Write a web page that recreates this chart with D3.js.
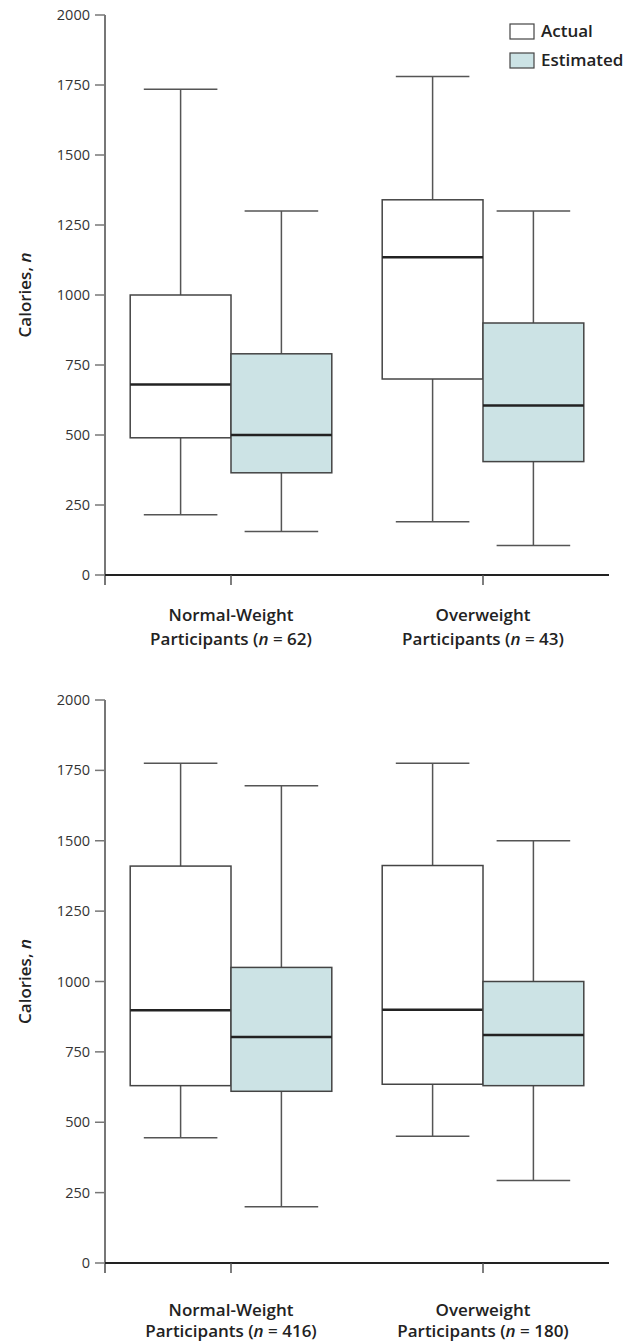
<!DOCTYPE html>
<html>
<head>
<meta charset="utf-8">
<script src="https://cdn.jsdelivr.net/npm/d3@7"></script>
<style>
  body { margin: 0; background: #fff; }
  text { font-family: "Open Sans", "Noto Sans", sans-serif; }
</style>
</head>
<body>
<script>
/*
    DATA
    each box is [lower whisker, Q1, median, Q3, upper whisker]
*/
var seriesNames = ["Actual", "Estimated"];
var groupNames = ["Normal-Weight", "Overweight"];
var topCounts = [62, 43];
var bottomCounts = [416, 180];
var yTicks = [0, 250, 500, 750, 1000, 1250, 1500, 1750, 2000];

var topActual = [[215, 490, 680, 1000, 1735], [190, 700, 1135, 1340, 1780]];
var topEstimated = [[155, 365, 500, 790, 1300], [105, 405, 605, 900, 1300]];
var bottomActual = [[445, 630, 898, 1410, 1775], [450, 635, 900, 1412, 1775]];
var bottomEstimated = [[200, 610, 803, 1050, 1695], [293, 630, 810, 1000, 1500]];

var fills = {"Actual": "#ffffff", "Estimated": "#cce3e5"};

/*
    LAYOUT
*/
var width = 631, height = 1343;
var axisLeft = 105, axisRight = 609;

var svg = d3.select("body").append("svg")
    .attr("width", width)
    .attr("height", height);

var x = d3.scaleBand()
    .domain(groupNames)
    .range([axisLeft, axisRight])
    .padding(0);

var xSub = d3.scaleBand()
    .domain(seriesNames)
    .range([0, x.bandwidth()])
    .paddingInner(0)
    .paddingOuter(0.25);

function drawPanel(top, bottom, actual, estimated, counts, labelY, lineGap) {
  var y = d3.scaleLinear().domain([0, 2000]).range([bottom, top]);
  var g = svg.append("g");

  // y axis
  g.append("line")
      .attr("x1", axisLeft).attr("x2", axisLeft)
      .attr("y1", y(2000)).attr("y2", y(0) + 10)
      .style("stroke", "#777").style("stroke-width", 2);

  var ticks = g.selectAll(".ytick").data(yTicks).enter().append("g")
      .attr("transform", function(d) { return "translate(0," + y(d) + ")"; });
  ticks.append("line")
      .attr("x1", axisLeft - 10).attr("x2", axisLeft)
      .style("stroke", "#777").style("stroke-width", 1.5);
  ticks.append("text")
      .attr("x", axisLeft - 15)
      .attr("dy", "0.35em")
      .style("text-anchor", "end")
      .style("font-size", "14.5px")
      .style("fill", "#333")
      .text(function(d) { return d; });

  // y label
  var yl = g.append("text")
      .attr("transform", "translate(31," + ((top + bottom) / 2) + ") rotate(-90)")
      .style("text-anchor", "middle")
      .style("font-size", "17px")
      .style("font-weight", 600)
      .style("fill", "#222");
  yl.append("tspan").text("Calories, ");
  yl.append("tspan").style("font-style", "italic").text("n");

  // boxes
  var boxData = [];
  groupNames.forEach(function(grp, i) {
    boxData.push({group: grp, series: "Actual", v: actual[i]});
    boxData.push({group: grp, series: "Estimated", v: estimated[i]});
  });

  var bw = xSub.bandwidth();
  var capW = bw * 0.73;

  var box = g.selectAll(".box").data(boxData).enter().append("g")
      .attr("transform", function(d) { return "translate(" + (x(d.group) + xSub(d.series)) + ",0)"; });

  // whiskers
  box.append("line")
      .attr("x1", bw / 2).attr("x2", bw / 2)
      .attr("y1", function(d) { return y(d.v[4]); })
      .attr("y2", function(d) { return y(d.v[3]); })
      .style("stroke", "#555").style("stroke-width", 1.5);
  box.append("line")
      .attr("x1", bw / 2).attr("x2", bw / 2)
      .attr("y1", function(d) { return y(d.v[1]); })
      .attr("y2", function(d) { return y(d.v[0]); })
      .style("stroke", "#555").style("stroke-width", 1.5);
  [0, 4].forEach(function(k) {
    box.append("line")
        .attr("x1", (bw - capW) / 2).attr("x2", (bw + capW) / 2)
        .attr("y1", function(d) { return y(d.v[k]); })
        .attr("y2", function(d) { return y(d.v[k]); })
        .style("stroke", "#555").style("stroke-width", 1.5);
  });

  box.append("rect")
      .attr("x", 0).attr("width", bw)
      .attr("y", function(d) { return y(d.v[3]); })
      .attr("height", function(d) { return y(d.v[1]) - y(d.v[3]); })
      .style("fill", function(d) { return fills[d.series]; })
      .style("stroke", "#444").style("stroke-width", 1.5);

  box.append("line")
      .attr("x1", 0).attr("x2", bw)
      .attr("y1", function(d) { return y(d.v[2]); })
      .attr("y2", function(d) { return y(d.v[2]); })
      .style("stroke", "#222").style("stroke-width", 2.5);

  // x axis
  g.append("line")
      .attr("x1", axisLeft).attr("x2", axisRight)
      .attr("y1", y(0)).attr("y2", y(0))
      .style("stroke", "#222").style("stroke-width", 2);
  g.selectAll(".xtick").data(groupNames).enter().append("line")
      .attr("x1", function(d) { return x(d) + x.bandwidth() / 2; })
      .attr("x2", function(d) { return x(d) + x.bandwidth() / 2; })
      .attr("y1", y(0)).attr("y2", y(0) + 10)
      .style("stroke", "#555").style("stroke-width", 1.5);

  // category labels
  groupNames.forEach(function(grp, i) {
    var cx = x(grp) + x.bandwidth() / 2;
    g.append("text")
        .attr("x", cx).attr("y", labelY)
        .style("text-anchor", "middle")
        .style("font-size", "17px").style("font-weight", 600).style("fill", "#222")
        .text(grp);
    var t = g.append("text")
        .attr("x", cx).attr("y", labelY + lineGap)
        .style("text-anchor", "middle")
        .style("font-size", "17px").style("font-weight", 600).style("fill", "#222");
    t.append("tspan").text("Participants (");
    t.append("tspan").style("font-style", "italic").text("n");
    t.append("tspan").text(" = " + counts[i] + ")");
  });
}

drawPanel(15, 575, topActual, topEstimated, topCounts, 621, 24);
drawPanel(700, 1263, bottomActual, bottomEstimated, bottomCounts, 1316, 21);

// legend
var legend = svg.append("g").selectAll(".leg").data(seriesNames).enter().append("g")
    .attr("transform", function(d, i) { return "translate(510," + (24 + i * 29) + ")"; });
legend.append("rect")
    .attr("width", 24).attr("height", 15)
    .style("fill", function(d) { return fills[d]; })
    .style("stroke", "#444").style("stroke-width", 1.2);
legend.append("text")
    .attr("x", 31).attr("y", 13)
    .style("font-size", "17px").style("font-weight", 600).style("fill", "#222")
    .text(function(d) { return d; });
</script>
</body>
</html>
